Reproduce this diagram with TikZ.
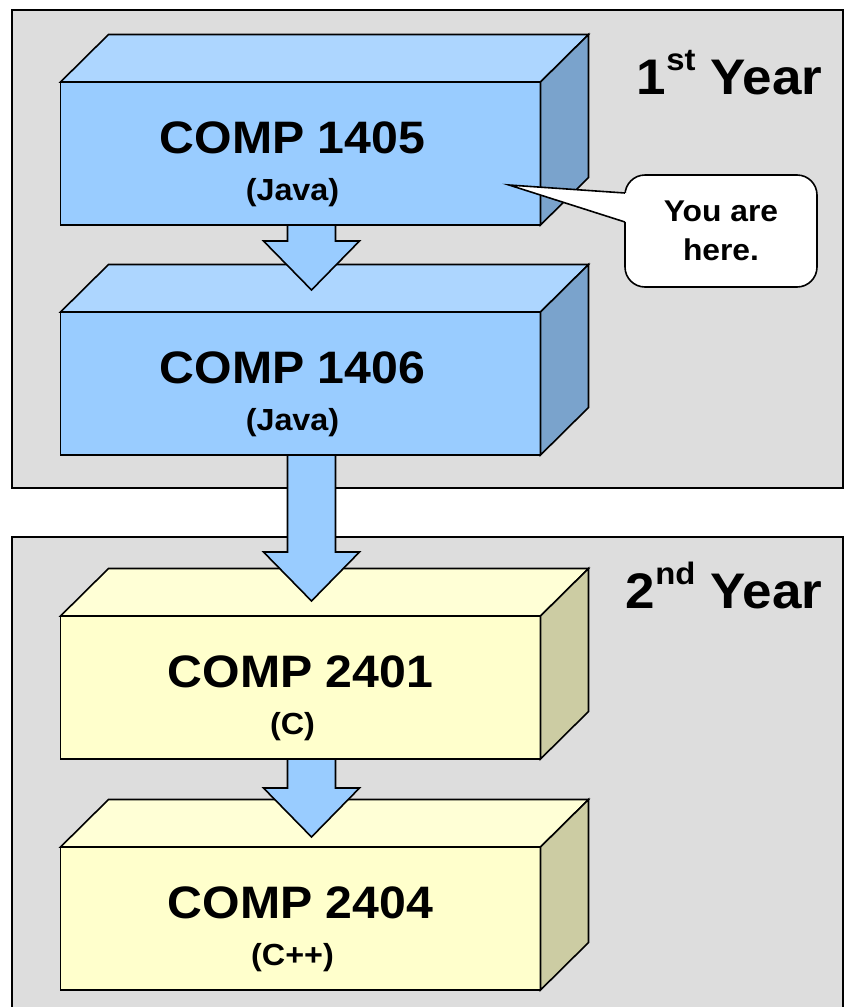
\documentclass[tikz,border=0pt]{standalone}
\usepackage{fontspec}
\setmainfont{Liberation Sans}[FakeStretch=1.06]
\usetikzlibrary{positioning}
\usetikzlibrary{calc}

\definecolor{panelgray}{HTML}{DDDDDD}
\definecolor{javafront}{HTML}{99CCFF}
\definecolor{javatop}{HTML}{ADD6FF}
\definecolor{javaside}{HTML}{7AA3CC}
\definecolor{ceefront}{HTML}{FFFFCC}
\definecolor{ceetop}{HTML}{FFFFD6}
\definecolor{ceeside}{HTML}{CCCCA3}

\begin{document}
\begin{tikzpicture}[x=1pt,y=1pt,line width=1.6pt,line join=miter,
    face/.style={draw,inner sep=0pt,outer sep=0pt,minimum width=480pt,minimum height=143pt},
    coursenum/.style={font=\fontsize{45.5}{45.5}\selectfont\bfseries,anchor=base},
    courselang/.style={font=\fontsize{30.5}{30.5}\selectfont\bfseries,anchor=base},
    yearlabel/.style={font=\fontsize{50}{50}\selectfont\bfseries,anchor=base east,inner sep=0pt},
    bubble/.style={draw,fill=white,rounded corners=20pt,inner sep=0pt,outer sep=0pt,
        minimum width=192pt,minimum height=112pt,align=center,
        font=\fontsize{30}{39}\selectfont\bfseries},
    blockarrow/.style={draw,fill=javafront,
        to path={let \p1=(\tikztostart), \p2=(\tikztotarget) in
            (\x1-24pt,\y1) -- (\x1-24pt,\y2+49pt) -- (\x1-48pt,\y2+49pt) -- (\x2,\y2)
            -- (\x1+48pt,\y2+49pt) -- (\x1+24pt,\y2+49pt) -- (\x1+24pt,\y1) -- cycle}}]

    \useasboundingbox (0,0) rectangle (849,-1007);

    % grey panels for the two years
    \draw [fill=panelgray] (12,-10) rectangle (843,-488);
    \draw [fill=panelgray] (12,-537) rectangle (843,-1030);

    % front faces of the course blocks
    \node [face,fill=javafront] (c1405) at (300.5,-153.5) {};
    \node [face,fill=javafront,below=87pt of c1405] (c1406) {};
    \node [face,fill=ceefront,below=161pt of c1406] (c2401) {};
    \node [face,fill=ceefront,below=88pt of c2401] (c2404) {};

    % top and side faces
    \foreach \n/\c in {c1405/java,c1406/java,c2401/cee,c2404/cee} {
        \draw [fill=\c top] (\n.north west) -- ++(48,47.5) -- ++(480,0) -- (\n.north east) -- cycle;
        \draw [fill=\c side] (\n.north east) -- ++(48,47.5) -- ++(0,-143) -- (\n.south east) -- cycle;
    }

    % course numbers and languages
    \foreach \n/\num/\lang/\dx in {c1405/1405/Java/-8,c1406/1406/Java/-8,c2401/2401/C/0,c2404/2404/C++/0} {
        \node [coursenum] (\n num) at ([xshift=\dx pt]\n.center) {COMP \num};
        \node [courselang] (\n lang) at ([xshift=-8pt,yshift=-47pt]\n.center) {(\lang)};
    }

    % block arrows between the courses
    \draw [blockarrow] ([xshift=11pt]c1405.south) to ([xshift=11pt,yshift=22pt]c1406.north);
    \draw [blockarrow] ([xshift=11pt]c1406.south) to ([xshift=11pt,yshift=15pt]c2401.north);
    \draw [blockarrow] ([xshift=11pt]c2401.south) to ([xshift=11pt,yshift=10pt]c2404.north);

    % speech bubble
    \node [bubble] (here) at (721,-231) {You are\\here.};
    \fill [white] ([xshift=1pt,yshift=38pt]here.west) -- ([xshift=-31.5pt,yshift=-31.5pt]c1405.east)
        -- ([xshift=1pt,yshift=9pt]here.west) -- cycle;
    \draw ([yshift=38pt]here.west) -- ([xshift=-31.5pt,yshift=-31.5pt]c1405.east) -- ([yshift=9pt]here.west);

    % year labels
    \node [yearlabel] (year1) at (823,-94) {1\raisebox{24pt}{\fontsize{31}{31}\selectfont st} Year};
    \node [yearlabel] (year2) at (823,-608) {2\raisebox{24pt}{\fontsize{31}{31}\selectfont nd} Year};

\end{tikzpicture}
\end{document}
